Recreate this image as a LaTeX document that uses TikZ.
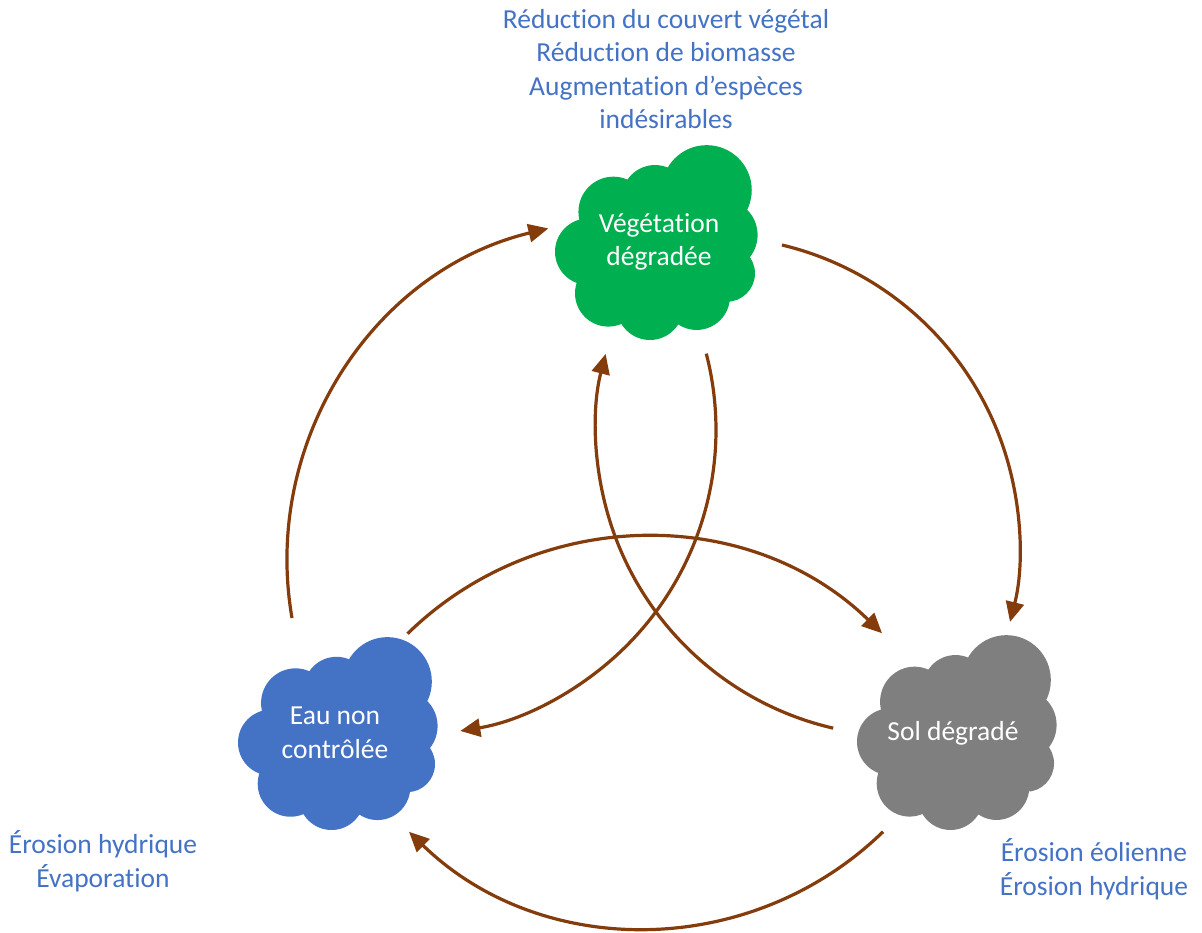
\documentclass[tikz,border=0pt]{standalone}
\usepackage{fontspec}
\setmainfont{Carlito}[Ligatures=NoCommon]
\usetikzlibrary{arrows.meta}
\definecolor{txtblue}{HTML}{4472C4}
\definecolor{cloudgreen}{HTML}{00B050}
\definecolor{cloudblue}{HTML}{4472C4}
\definecolor{cloudgray}{HTML}{7F7F7F}
\definecolor{arrbrown}{HTML}{843C0C}
% cloud drawn as a union of lobes in a unit box (y downwards)
\newcommand\cloudat[5]{% x0 ytop w h colour
  \begin{scope}[shift={(#1,933-#2)}, xscale=#3, yscale=-#4]
    \fill[#5]
      (0.751,0.239) ellipse[x radius=0.223, y radius=0.228]
      (0.495,0.281) ellipse[x radius=0.165, y radius=0.169]
      (0.289,0.349) ellipse[x radius=0.173, y radius=0.178]
      (0.165,0.552) ellipse[x radius=0.165, y radius=0.169]
      (0.264,0.763) ellipse[x radius=0.165, y radius=0.169]
      (0.470,0.831) ellipse[x radius=0.165, y radius=0.169]
      (0.701,0.780) ellipse[x radius=0.165, y radius=0.169]
      (0.850,0.662) ellipse[x radius=0.140, y radius=0.144]
      (0.833,0.467) ellipse[x radius=0.170, y radius=0.178]
      (0.520,0.526) ellipse[x radius=0.314, y radius=0.321];
  \end{scope}}
\begin{document}
\begin{tikzpicture}[x=1pt,y=1pt,
  conn/.style={draw=arrbrown, line width=3.2pt, -{Triangle[length=20pt,width=18pt]}},
  cloudtxt/.style={text=white, align=center, inner sep=0pt, font=\fontsize{27.5}{33.5}\selectfont},
  labtxt/.style={text=txtblue, align=center, inner sep=0pt, font=\fontsize{27.5}{33.5}\selectfont}]
\useasboundingbox (0,0) rectangle (1202,933);
\fill[white] (0,0) rectangle (1202,933);
% clouds
\cloudat{555}{143}{202}{197}{cloudgreen}
\cloudat{238}{635}{199}{195}{cloudblue}
\cloudat{857}{633}{199}{197}{cloudgray}
% texts
\node[cloudtxt] (veg) at (659,933-242) {Végétation\\dégradée};
\node[cloudtxt] (eau) at (335,933-733) {Eau non\\contrôlée};
\node[cloudtxt, anchor=base] (sol) at (953,933-741) {Sol dégradé};
\node[labtxt] (vegfx) at (666,933-69) {Réduction du couvert végétal\\Réduction de biomasse\\Augmentation d’espèces\\indésirables};
\node[labtxt] (eaufx) at (103,933-861) {Érosion hydrique\\Évaporation};
\node[labtxt] (solfx) at (1094,933-869) {Érosion éolienne\\Érosion hydrique};
% arc centres
\coordinate (c1) at (628,373);
\coordinate (c2) at (710,387);
\coordinate (c3) at (646,345);
\coordinate (c4) at (645,56);
\coordinate (c5) at (411,503);
\coordinate (c6) at (902,503);
% arc start points
\path (c1) ++(189.8:341) coordinate (eau2veg);
\path (c2) ++(76.55:309.5) coordinate (veg2sol);
\path (c3) ++(-45.8:340) coordinate (sol2eau);
\path (c4) ++(134.3:340) coordinate (eau2sol);
\path (c5) ++(14.5:305) coordinate (veg2eau);
\path (c6) ++(257:306) coordinate (sol2veg);
% connectors
\draw[conn] (eau2veg) arc[start angle=189.8, end angle=103.5, radius=341];
\draw[conn] (veg2sol) arc[start angle=76.55, end angle=-14.2, radius=309.5];
\draw[conn] (sol2eau) arc[start angle=-45.8, end angle=-134.2, radius=340];
\draw[conn] (eau2sol) arc[start angle=134.3, end angle=45.8, radius=340];
\draw[conn] (veg2eau) arc[start angle=14.5, end angle=-80.7, radius=305];
\draw[conn] (sol2veg) arc[start angle=257, end angle=165.6, radius=306];
\end{tikzpicture}
\end{document}
